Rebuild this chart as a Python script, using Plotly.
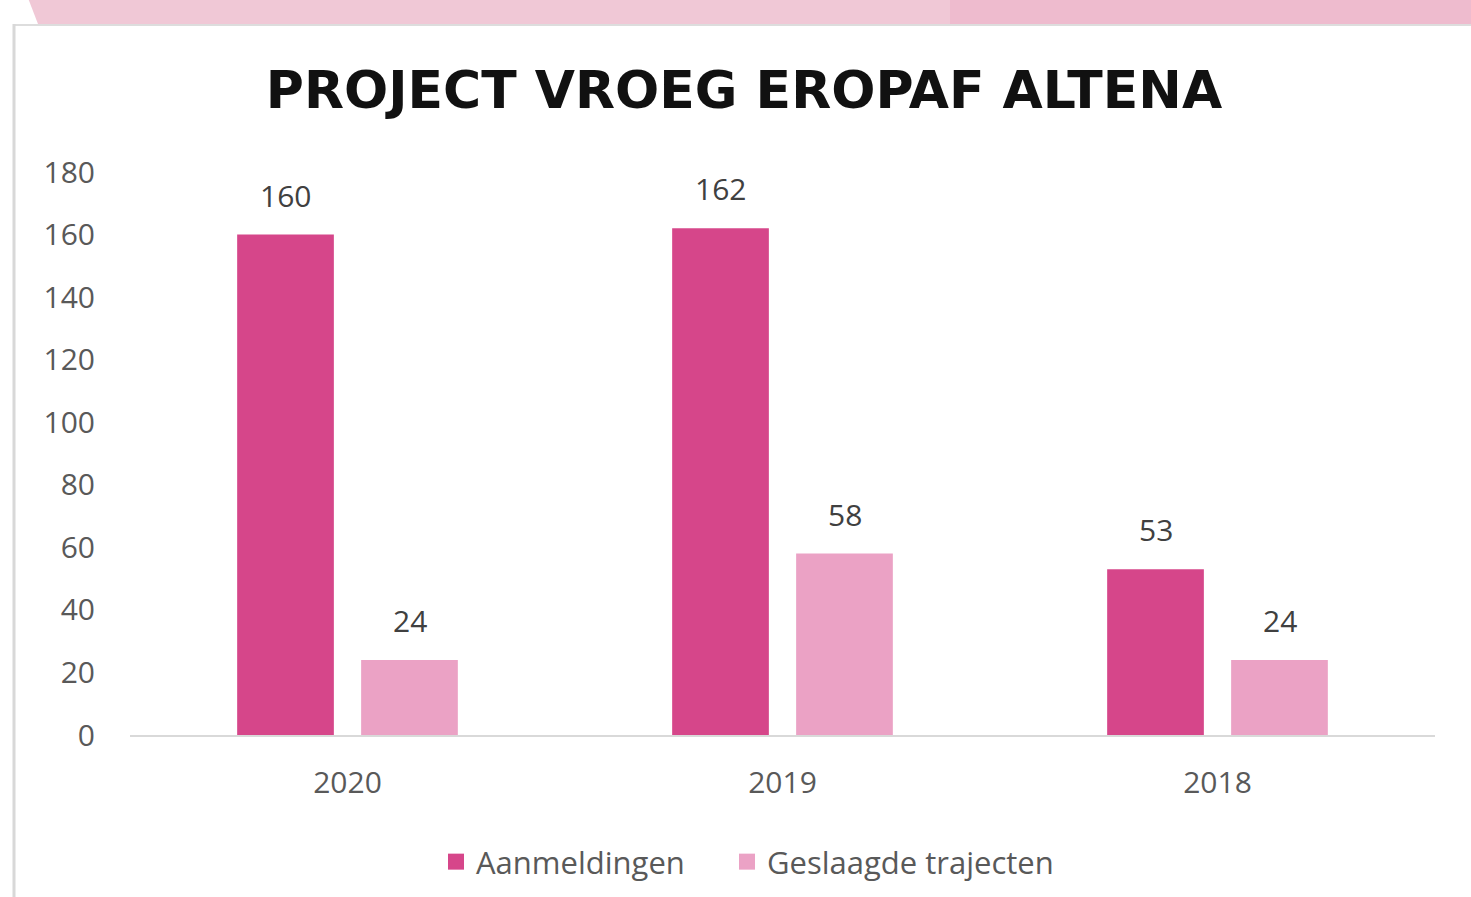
import plotly.graph_objects as go

years = ["2020", "2019", "2018"]
aanmeldingen = [160, 162, 53]
geslaagd = [24, 58, 24]
series_names = ["Aanmeldingen", "Geslaagde trajecten"]
y_ticks = [0, 20, 40, 60, 80, 100, 120, 140, 160, 180]

W, H = 1471, 897
PL, PR, PT, PB = 130, 1435, 172, 735  # plot box in pixels


def px(x):
    return (x - PL) / (PR - PL)


def py(y):
    return (PB - y) / (PB - PT)


dark = "#D6468A"
light = "#EBA2C5"

fig = go.Figure()
fig.add_bar(x=years, y=aanmeldingen, name=series_names[0], marker_color=dark,
            marker_line_width=0, showlegend=False)
fig.add_bar(x=years, y=geslaagd, name=series_names[1], marker_color=light,
            marker_line_width=0, showlegend=False)
# legend entries with square swatches
for nm, col, lw in zip(series_names, (dark, light), (246, 320)):
    fig.add_scatter(x=[years[0]], y=[None], mode="markers", name=nm, legendwidth=lw,
                    marker=dict(symbol="square", size=20, color=col))

ann = []
for vals, shift in ((aanmeldingen, -62), (geslaagd, 62)):
    for i, v in enumerate(vals):
        ann.append(dict(x=i, y=v, xref="x", yref="y", text=str(v), showarrow=False,
                        xshift=shift, yshift=17, yanchor="bottom",
                        font=dict(family="Open Sans", size=30, color="#404040")))

shapes = [
    # pink banner
    dict(type="path", xref="paper", yref="paper",
         path=f"M {px(28)},{py(-2)} L {px(950)},{py(-2)} L {px(950)},{py(24)} L {px(38)},{py(24)} Z",
         fillcolor="#F0C8D6", line_width=0, layer="below"),
    dict(type="rect", xref="paper", yref="paper", x0=px(950), x1=px(1475), y0=py(24), y1=py(-2),
         fillcolor="#EEBBCE", line_width=0, layer="below"),
    # card top border
    dict(type="line", xref="paper", yref="paper", x0=px(14), x1=px(1475), y0=py(25), y1=py(25),
         line=dict(color="#DDDDDD", width=2), layer="below"),
    # card left border
    dict(type="line", xref="paper", yref="paper", x0=px(14), x1=px(14), y0=py(24), y1=py(900),
         line=dict(color="#D8D8D8", width=3), layer="below"),
]

fig.update_layout(
    width=W, height=H,
    margin=dict(l=PL, r=W - PR, t=PT, b=H - PB, autoexpand=False),
    paper_bgcolor="white", plot_bgcolor="white",
    barmode="group", bargap=0.43, bargroupgap=0.22,
    title=dict(text="PROJECT VROEG EROPAF ALTENA", x=744 / W, xanchor="center",
               y=1 - 90 / H, yanchor="middle",
               font=dict(family="DejaVu Sans", size=52, color="#111111", weight="bold")),
    font=dict(family="Open Sans", color="#595959", size=30),
    xaxis=dict(type="category", categoryorder="array", categoryarray=years,
               range=[-0.5, len(years) - 0.5], autorange=False,
               showline=True, linecolor="#D9D9D9", linewidth=2,
               showgrid=False, ticks="", ticklabelstandoff=20,
               tickfont=dict(size=30, color="#595959")),
    yaxis=dict(range=[0, 180], autorange=False, tickvals=y_ticks, showgrid=False,
               zeroline=False, showline=False, ticks="", ticklabelstandoff=34,
               tickfont=dict(size=30, color="#595959")),
    legend=dict(orientation="h", x=px(436), xanchor="left",
                yref="container", y=1 - 862 / H, yanchor="middle",
                font=dict(size=31, color="#595959"), itemwidth=30,
                traceorder="normal"),
    annotations=ann,
    shapes=shapes,
)

fig.write_html("out.html", config={"displayModeBar": False},
               post_script="document.body.style.margin='0';")
